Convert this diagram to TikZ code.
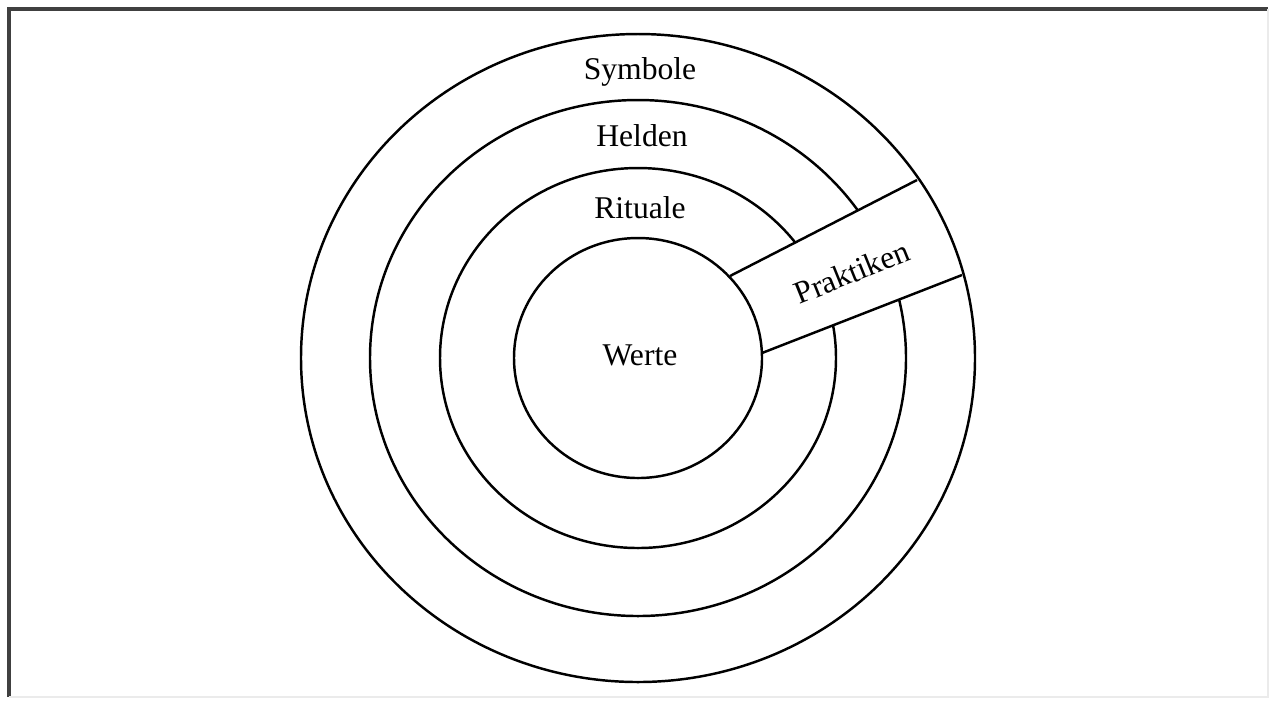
\documentclass[tikz,border=0pt]{standalone}
\usepackage{fontspec}
\setmainfont{Liberation Serif}
\usepackage{tikz}

\begin{document}
\begin{tikzpicture}[ring/.style={line width=0.7pt},
  lbl/.style={font=\fontsize{9}{11}\selectfont}]
	  \useasboundingbox (0,0) rectangle (12.70,-7.03);
	  % frame
	  \draw[line width=1pt,black!75] (0.09,-6.97) -- (0.09,-0.09) -- (12.68,-0.09);
	  \draw[black!8] (12.68,-0.09) -- (12.68,-6.97) -- (0.09,-6.97);
	  % middle rings, cut by the band
	  \draw[ring] (6.38,-3.58) ellipse (2.68 and 2.58);
	  \draw[ring] (6.38,-3.58) ellipse (1.98 and 1.90);
	  \coordinate (a) at (7.30,-2.76);
	  \coordinate (b) at (9.17,-1.80);
	  \coordinate (c) at (9.62,-2.75);
	  \coordinate (d) at (7.62,-3.53);
	  \fill[white] (a) -- (b) -- (c) -- (d) -- cycle;
	  % inner and outer rings
	  \draw[ring] (6.38,-3.58) ellipse (1.24 and 1.20);
	  \draw[ring] (6.38,-3.58) ellipse (3.37 and 3.24);
	  \draw[ring] (a) -- (b);
	  \draw[ring] (d) -- (c);
	  \node[lbl] (symbole) at (6.40,-0.72) {Symbole};
	  \node[lbl] (helden) at (6.42,-1.36) {Helden};
	  \node[lbl] (rituale) at (6.40,-2.08) {Rituale};
	  \node[lbl] (werte) at (6.40,-3.55) {Werte};
	  \node[lbl,rotate=22] (praktiken) at (8.52,-2.72) {Praktiken};
	\end{tikzpicture}
\end{document}
